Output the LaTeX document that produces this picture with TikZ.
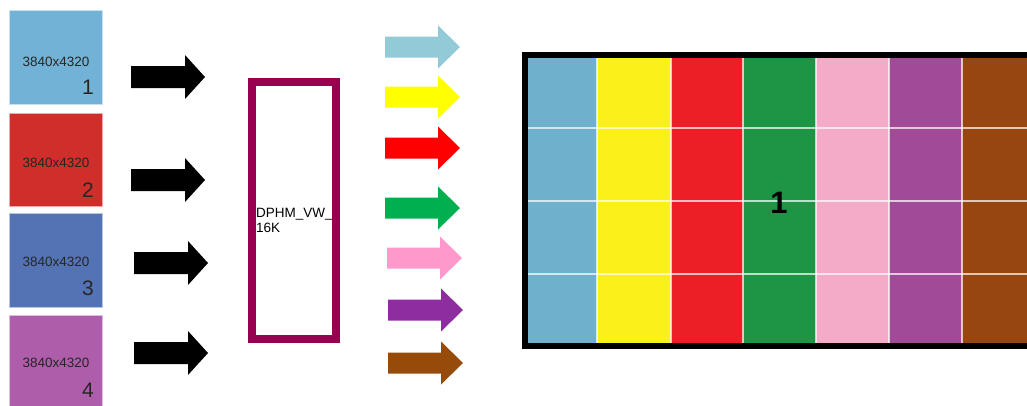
\documentclass[tikz,border=0pt]{standalone}
\usepackage{fontspec}
\setmainfont{Liberation Sans}
\begin{document}
\begin{tikzpicture}[x=1pt,y=-1pt,
  inbox/.style={draw=white!60!#1, line width=0.8pt, fill=#1},
  pics/blockarrow/.style={code={\fill[#1] (0,-10.5) -- (53,-10.5) -- (53,-21.5) -- (75,0) -- (53,21.5) -- (53,10.5) -- (0,10.5) -- cycle;}},
  pics/blackarrow/.style={code={\fill[black] (0,-11) -- (54,-11) -- (54,-22) -- (74,0) -- (54,22) -- (54,11) -- (0,11) -- cycle;}},
  restxt/.style={font=\fontsize{13.5}{13.5}\selectfont, inner sep=0pt, text=black!85},
  numtxt/.style={font=\fontsize{21}{21}\selectfont, inner sep=0pt, anchor=east, text=black!85},
]
\useasboundingbox (0,0) rectangle (1027,405);
\definecolor{cA}{HTML}{72B2D6}
\definecolor{cB}{HTML}{CF2E2A}
\definecolor{cC}{HTML}{5373B5}
\definecolor{cD}{HTML}{AE5DAA}
\definecolor{maroon}{HTML}{990050}
\definecolor{a1}{HTML}{92CAD8}
\definecolor{a2}{HTML}{FFFF00}
\definecolor{a3}{HTML}{FF0000}
\definecolor{a4}{HTML}{00B050}
\definecolor{a5}{HTML}{FF99CC}
\definecolor{a6}{HTML}{8E2DA0}
\definecolor{a7}{HTML}{964B0A}
\definecolor{g1}{HTML}{6FB0CC}
\definecolor{g2}{HTML}{FBF01A}
\definecolor{g3}{HTML}{EC1F26}
\definecolor{g4}{HTML}{1E9544}
\definecolor{g5}{HTML}{F4ABC8}
\definecolor{g6}{HTML}{A04A98}
\definecolor{g7}{HTML}{984610}

% input boxes
\draw[inbox=cA] (9,10) rectangle (102,104);
\draw[inbox=cB] (9,113) rectangle (102,206);
\draw[inbox=cC] (9,213) rectangle (102,307);
\draw[inbox=cD] (9,315) rectangle (102,410);
\node[restxt] (r1) at (56,62) {3840x4320};
\node[restxt] (r2) at (56,163) {3840x4320};
\node[restxt] (r3) at (56,262) {3840x4320};
\node[restxt] (r4) at (56,363) {3840x4320};
\node[numtxt] (n1) at (94,87) {1};
\node[numtxt] (n2) at (94,190) {2};
\node[numtxt] (n3) at (94,288) {3};
\node[numtxt] (n4) at (94,390) {4};

% black arrows
\pic at (131,77) {blackarrow};
\pic at (131,180) {blackarrow};
\pic at (134,263) {blackarrow};
\pic at (134,353) {blackarrow};

% middle box
\draw[maroon, line width=8pt] (252,82) rectangle (336,339);
\node[font=\fontsize{13.5}{15}\selectfont, align=left, anchor=west, inner sep=0pt] (dp) at (256,220) {DPHM\_VW\_\\16K};

% coloured arrows
\pic at (385,47) {blockarrow=a1};
\pic at (385,97) {blockarrow=a2};
\pic at (385,148) {blockarrow=a3};
\pic at (385,208) {blockarrow=a4};
\pic at (387,258) {blockarrow=a5};
\pic at (388,310) {blockarrow=a6};
\pic at (388,363) {blockarrow=a7};

% output grid
\fill[black] (522,52) rectangle (1027,349);
\foreach \c/\xa/\xb in {g1/528/597, g2/597/671, g3/671/743, g4/743/816, g5/816/889, g6/889/962, g7/962/1027} {
  \fill[\c] (\xa,58) rectangle (\xb,343);
}
\foreach \yy in {128,201,274} \draw[white, opacity=0.7, line width=1.2pt] (528,\yy) -- (1027,\yy);
\foreach \xx in {597,671,743,816,889,962} \draw[white, opacity=0.7, line width=1.2pt] (\xx,58) -- (\xx,343);
\node[font=\bfseries\fontsize{31}{31}\selectfont, inner sep=0pt] (big) at (779,203) {1};
\end{tikzpicture}
\end{document}
